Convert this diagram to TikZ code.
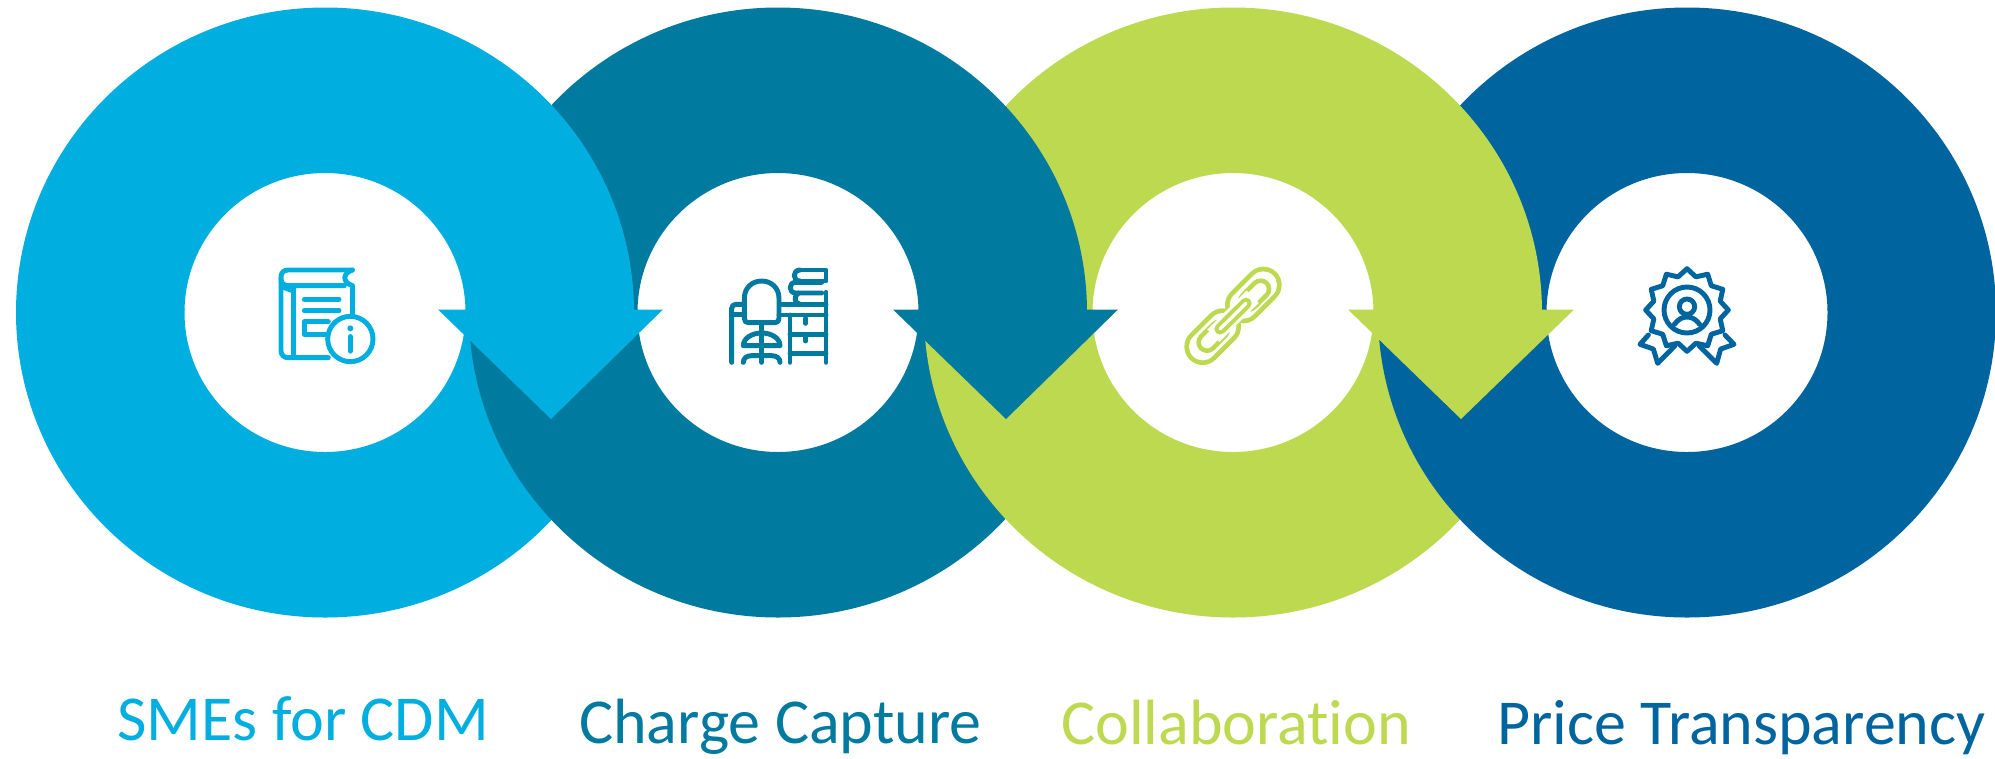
\documentclass[tikz,border=0pt]{standalone}
\usepackage{fontspec}
\setmainfont{Carlito}[Ligatures=NoCommon]
\definecolor{cA}{HTML}{00AEDF}
\definecolor{cB}{HTML}{007A9E}
\definecolor{cC}{HTML}{BCD94F}
\definecolor{cD}{HTML}{00659F}
\newcommand{\ringshape}[2]{\fill[#2,even odd rule] (#1,312.5) circle[x radius=309,y radius=305] (#1,312.5) circle[x radius=140.5,y radius=139.5];}
\newcommand{\lowerring}[2]{\begin{scope}\clip (-10,309.5) rectangle (2010,760);\ringshape{#1}{#2}\end{scope}}
\newcommand{\upperring}[2]{\begin{scope}\clip (-10,-10) rectangle (2010,309.5);\ringshape{#1}{#2}\end{scope}}
\tikzset{
  labeltext/.style={anchor=base west,inner sep=0pt,font=\fontsize{48}{58}\selectfont},
  iconline/.style={line width=3.7pt,line cap=round,line join=round,draw=#1},
  arrowhead/.style={fill=#1}
}
\begin{document}
\begin{tikzpicture}[x=0.75pt,y=-0.75pt]
\useasboundingbox (0,0) rectangle (1995,758);
\fill[white] (0,0) rectangle (1995,758);
% lower halves, left to right
\lowerring{325}{cA}
\lowerring{778}{cB}
\lowerring{1233}{cC}
\lowerring{1687}{cD}
% upper halves, right to left
\upperring{1687}{cD}
\upperring{1233}{cC}
\upperring{778}{cB}
\upperring{325}{cA}
% arrows
\fill[arrowhead=cA] (438,309.5) -- (663,309.5) -- (551,419) -- cycle;
\fill[arrowhead=cB] (893,309.5) -- (1118,309.5) -- (1006,419) -- cycle;
\fill[arrowhead=cC] (1348,309.5) -- (1574,309.5) -- (1461,419) -- cycle;
% icon 1: book
\begin{scope}[shift={(265,255)},x=0.25pt,y=-0.25pt]
\draw[iconline=cA,rounded corners=5pt] (262,45) -- (48,45) -- (48,92) -- (238,92);
\draw[iconline=cA] (262,45) .. controls (232,55) and (232,82) .. (262,92);
\draw[iconline=cA] (262,92) -- (262,185);
\draw[iconline=cA,rounded corners=5pt] (48,70) -- (48,308) -- (190,308);
\draw[iconline=cA] (85,100) -- (85,305);
\draw[iconline=cA] (50,95) -- (85,108);
\draw[iconline=cA] (118,133) -- (222,133);
\draw[iconline=cA] (118,167) -- (222,167);
\draw[iconline=cA] (190,200) -- (118,200) -- (118,238) -- (185,238);
\draw[iconline=cA,fill=white] (256,252) circle[radius=68];
\fill[cA] (256,220) circle[radius=9];
\draw[cA,line width=4pt,line cap=round] (256,245) -- (256,288);
\end{scope}
% icon 2: desk and chair
\begin{scope}[shift={(715,255)},x=0.25pt,y=-0.25pt]
\draw[iconline=cB,rounded corners=3pt] (50,322) -- (50,148) -- (88,148);
\draw[iconline=cB] (50,178) -- (88,178);
\draw[iconline=cB] (88,130) .. controls (88,98) and (112,78) .. (140,78) .. controls (168,78) and (192,98) .. (192,130) -- (192,190) .. controls (192,198) and (188,203) .. (180,203) -- (100,203) .. controls (92,203) and (88,198) .. (88,190) -- cycle;
\draw[iconline=cB] (140,205) -- (140,322);
\draw[iconline=cB] (85,272) .. controls (85,250) and (110,234) .. (140,234) .. controls (170,234) and (195,250) .. (195,272) -- cycle;
\draw[iconline=cB] (85,322) .. controls (85,310) and (95,302) .. (110,302) -- (170,302) .. controls (185,302) and (195,310) .. (195,322);
\draw[iconline=cB] (195,148) -- (333,148);
\draw[iconline=cB] (192,180) -- (333,180);
\draw[iconline=cB] (225,180) -- (225,322);
\draw[iconline=cB] (333,112) -- (333,322);
\draw[iconline=cB] (225,238) -- (333,238);
\draw[iconline=cB] (225,295) -- (333,295);
\draw[iconline=cB] (272,190) -- (272,205);
\draw[iconline=cB] (272,245) -- (272,258);
\draw[iconline=cB] (255,45) -- (333,45) -- (333,78) -- (255,78);
\draw[iconline=cB] (255,45) .. controls (232,45) and (232,78) .. (255,78);
\draw[iconline=cB] (320,82) -- (242,82) .. controls (220,82) and (220,114) .. (242,114) -- (320,114);
\draw[iconline=cB] (250,114) .. controls (235,125) and (238,145) .. (255,148);
\end{scope}
% icon 3: chain links
\begin{scope}[shift={(1170,255)},x=0.25pt,y=-0.25pt,line cap=round]
\draw[cC,line width=27.5pt] (220,150) -- (280,90);
\draw[cC,line width=27.5pt] (98,275) -- (158,215);
\draw[white,line width=20.5pt] (220,150) -- (280,90);
\draw[white,line width=20.5pt] (98,275) -- (158,215);
\draw[cC,line width=16pt] (235,139) -- (272,102);
\draw[white,line width=9pt] (235,139) -- (272,102);
\draw[cC,line width=16pt] (111,262) -- (148,225);
\draw[white,line width=9pt] (111,262) -- (148,225);
\draw[white,line width=13pt,line cap=butt] (130,242) -- (248,125);
\draw[cC,line width=8.5pt] (150,222) -- (228,145);
\draw[white,line width=2.5pt] (150,222) -- (228,145);
\end{scope}
% icon 4: award badge
\begin{scope}[shift={(1625,255)},x=0.25pt,y=-0.25pt]
\draw[iconline=cD] (70,240) -- (45,268) -- (85,282) -- (98,325) -- (150,272);
\draw[iconline=cD] (300,240) -- (327,268) -- (287,282) -- (275,325) -- (222,272);
\draw[iconline=cD,fill=white] plot[samples at={0,15,...,345}] ({186+(mod(\x,30)==0 ? 124 : 103)*cos(\x)},{165+(mod(\x,30)==0 ? 124 : 103)*sin(\x)}) -- cycle;
\draw[iconline=cD] (186,165) circle[radius=69];
\draw[iconline=cD] (186,155) circle[radius=23];
\draw[iconline=cD] (148,208) .. controls (160,192) and (172,186) .. (186,186) .. controls (200,186) and (212,192) .. (224,208);
\end{scope}
% labels
\node[labeltext,text=cA] (l1) at (117,740) {SMEs for CDM};
\node[labeltext,text=cB] (l2) at (579,743) {Charge Capture};
\node[labeltext,text=cC] (l3) at (1061,744) {Collaboration};
\node[labeltext,text=cD] (l4) at (1497,744) {Price Transparency};
\end{tikzpicture}
\end{document}
